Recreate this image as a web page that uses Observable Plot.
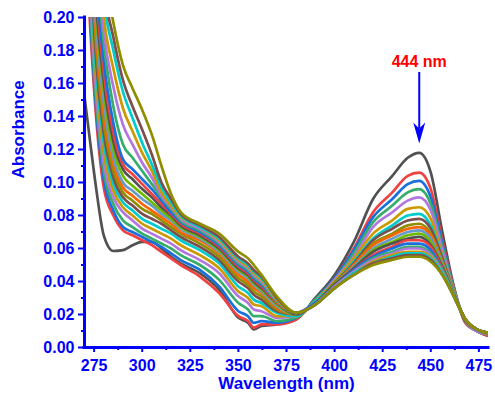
<!DOCTYPE html>
<html><head><meta charset="utf-8">
<script src="https://cdn.jsdelivr.net/npm/d3@7"></script>
<script src="https://cdn.jsdelivr.net/npm/@observablehq/plot@0.6"></script>
<style>body{margin:0;background:#fff} #chart{width:495px;height:402px}</style>
</head><body><div id="chart"></div>
<script>
const wavelength = [270, 273, 276, 280, 285, 290, 295, 300, 305, 310, 315, 320, 330, 340, 350, 355, 358, 362, 370, 380, 390, 400, 410, 420, 430, 438, 444, 450, 456, 462, 468, 474, 480];

const s00 = [0.152,0.124,0.097,0.068,0.0585,0.059,0.062,0.064,0.064,0.060,0.055,0.051,0.045,0.035,0.018,0.015,0.011,0.013,0.014,0.017, 0.030,0.044,0.064,0.090,0.104,0.115,0.118,0.106,0.070,0.037,0.015,0.010,0.007];
const s01 = [0.26,0.193,0.140,0.097,0.080,0.071,0.068,0.065,0.062,0.058,0.054,0.050,0.043,0.033,0.019,0.016,0.012,0.014,0.014,0.017, 0.029,0.042,0.060,0.082,0.094,0.104,0.106,0.096,0.065,0.036,0.015,0.010,0.007];
const s02 = [0.27,0.200,0.145,0.102,0.083,0.073,0.070,0.067,0.064,0.061,0.057,0.053,0.047,0.037,0.022,0.019,0.015,0.016,0.015,0.018, 0.029,0.042,0.059,0.079,0.090,0.099,0.101,0.091,0.063,0.035,0.016,0.010,0.008];
const s03 = [0.28,0.207,0.150,0.107,0.087,0.077,0.073,0.069,0.066,0.063,0.060,0.056,0.050,0.041,0.027,0.023,0.019,0.019,0.016,0.018, 0.029,0.041,0.057,0.076,0.086,0.094,0.096,0.087,0.061,0.035,0.016,0.010,0.008];
const s04 = [0.29,0.214,0.156,0.112,0.091,0.082,0.077,0.072,0.069,0.066,0.063,0.059,0.053,0.045,0.031,0.027,0.023,0.022,0.018,0.019, 0.028,0.041,0.055,0.073,0.082,0.089,0.091,0.083,0.059,0.034,0.016,0.010,0.008];
const s05 = [0.30,0.222,0.162,0.118,0.095,0.085,0.080,0.075,0.072,0.069,0.066,0.062,0.056,0.048,0.034,0.030,0.026,0.025,0.019,0.019, 0.028,0.040,0.054,0.069,0.077,0.084,0.085,0.078,0.056,0.034,0.016,0.011,0.008];
const s06 = [0.31,0.230,0.168,0.124,0.099,0.088,0.083,0.078,0.075,0.072,0.069,0.065,0.059,0.051,0.037,0.033,0.029,0.027,0.021,0.019, 0.028,0.039,0.052,0.066,0.074,0.080,0.081,0.074,0.055,0.033,0.016,0.011,0.008];
const s07 = [0.32,0.238,0.175,0.130,0.103,0.091,0.086,0.081,0.078,0.075,0.071,0.067,0.061,0.053,0.040,0.036,0.032,0.029,0.022,0.020, 0.027,0.039,0.051,0.065,0.072,0.077,0.078,0.072,0.054,0.033,0.016,0.011,0.008];
const s08 = [0.33,0.246,0.182,0.136,0.107,0.094,0.089,0.084,0.081,0.077,0.073,0.069,0.063,0.055,0.042,0.038,0.034,0.031,0.023,0.020, 0.027,0.039,0.050,0.063,0.069,0.074,0.075,0.069,0.052,0.033,0.017,0.011,0.008];
const s09 = [0.34,0.255,0.189,0.142,0.111,0.097,0.092,0.087,0.083,0.079,0.075,0.070,0.065,0.057,0.044,0.040,0.036,0.033,0.024,0.020, 0.027,0.038,0.050,0.062,0.068,0.072,0.073,0.068,0.052,0.033,0.017,0.011,0.009];
const s10 = [0.35,0.264,0.196,0.148,0.115,0.100,0.095,0.090,0.086,0.081,0.077,0.072,0.066,0.058,0.046,0.042,0.038,0.034,0.025,0.020, 0.027,0.038,0.049,0.060,0.066,0.070,0.071,0.066,0.051,0.033,0.017,0.011,0.009];
const s11 = [0.36,0.273,0.203,0.155,0.120,0.104,0.098,0.093,0.088,0.083,0.078,0.073,0.067,0.059,0.047,0.043,0.039,0.035,0.026,0.020, 0.027,0.038,0.048,0.059,0.064,0.068,0.069,0.064,0.050,0.032,0.017,0.011,0.009];
const s12 = [0.37,0.282,0.210,0.161,0.125,0.108,0.102,0.096,0.091,0.085,0.080,0.074,0.068,0.060,0.048,0.044,0.040,0.036,0.027,0.020, 0.027,0.038,0.048,0.058,0.063,0.066,0.067,0.062,0.049,0.032,0.017,0.011,0.009];
const s13 = [0.38,0.292,0.218,0.167,0.130,0.111,0.105,0.099,0.093,0.087,0.081,0.075,0.069,0.061,0.049,0.045,0.041,0.037,0.027,0.021, 0.027,0.037,0.047,0.056,0.061,0.065,0.065,0.061,0.048,0.032,0.017,0.011,0.009];
const s14 = [0.39,0.302,0.226,0.174,0.136,0.114,0.108,0.102,0.096,0.089,0.082,0.076,0.070,0.062,0.050,0.046,0.042,0.038,0.028,0.021, 0.027,0.037,0.047,0.055,0.060,0.063,0.063,0.059,0.047,0.032,0.017,0.011,0.009];
const s15 = [0.41,0.320,0.240,0.185,0.146,0.123,0.115,0.107,0.099,0.091,0.084,0.077,0.071,0.063,0.051,0.047,0.043,0.039,0.028,0.021, 0.026,0.037,0.046,0.054,0.058,0.061,0.061,0.057,0.047,0.032,0.017,0.011,0.009];
const s16 = [0.42,0.330,0.250,0.192,0.158,0.135,0.123,0.112,0.103,0.092,0.085,0.078,0.072,0.064,0.052,0.048,0.044,0.040,0.029,0.021, 0.026,0.037,0.046,0.053,0.057,0.060,0.060,0.056,0.046,0.031,0.017,0.011,0.009];
const s17 = [0.44,0.345,0.262,0.201,0.169,0.145,0.131,0.118,0.107,0.094,0.086,0.079,0.073,0.065,0.053,0.049,0.045,0.041,0.029,0.021, 0.026,0.036,0.045,0.052,0.056,0.058,0.058,0.055,0.045,0.031,0.017,0.011,0.009];
const s18 = [0.46,0.360,0.275,0.212,0.180,0.155,0.139,0.124,0.111,0.097,0.088,0.080,0.073,0.066,0.054,0.050,0.046,0.042,0.030,0.021, 0.026,0.036,0.045,0.051,0.055,0.057,0.057,0.054,0.045,0.031,0.017,0.011,0.009];
const s19 = [0.47,0.370,0.285,0.220,0.188,0.162,0.146,0.132,0.117,0.100,0.090,0.081,0.074,0.067,0.055,0.051,0.047,0.043,0.030,0.021, 0.026,0.036,0.044,0.051,0.054,0.056,0.056,0.053,0.044,0.031,0.017,0.011,0.009];
const s20 = [0.49,0.390,0.300,0.232,0.197,0.171,0.157,0.144,0.129,0.110,0.093,0.082,0.075,0.069,0.058,0.054,0.050,0.044,0.031,0.021, 0.026,0.036,0.044,0.050,0.053,0.055,0.055,0.052,0.044,0.031,0.017,0.011,0.009];

const spectra = [s00,s01,s02,s03,s04,s05,s06,s07,s08,s09,s10,s11,s12,s13,s14,s15,s16,s17,s18,s19,s20];
const palette = ["#515151","#F14040","#1A6FDF","#37AD6B","#B177DE","#CC9900","#00CBCC","#7D4E4E","#8E8E00","#FB6501","#6699CC","#6FB802"];

const xDomain = [270, 480];
const yDomain = [0, 0.2];
const xTicks = [275, 300, 325, 350, 375, 400, 425, 450, 475];
const xMinor = [287.5, 312.5, 337.5, 362.5, 387.5, 412.5, 437.5, 462.5];
const yTicks = [0, 0.02, 0.04, 0.06, 0.08, 0.10, 0.12, 0.14, 0.16, 0.18, 0.20];
const yMinor = [0.01, 0.03, 0.05, 0.07, 0.09, 0.11, 0.13, 0.15, 0.17, 0.19];
const peak = [{nm: 444, label: "444 nm", labelY: 0.1733, arrowTop: 0.1667, arrowNotch: 0.1327, arrowTip: 0.1236}];

const blue = "#0000FF";
const font = "'Liberation Sans', Arial, Helvetica, sans-serif";

const stealth = {
  draw(ctx) {
    ctx.moveTo(0, 0);
    ctx.lineTo(-6, -21);
    ctx.lineTo(0, -15);
    ctx.lineTo(6, -21);
    ctx.closePath();
  }
};

const marks = [];
spectra.forEach((s, i) => {
  const rows = wavelength.map((w, j) => ({w, a: s[j]}));
  marks.push(Plot.line(rows, {x: "w", y: "a", stroke: palette[i % palette.length], strokeWidth: 2.7, curve: "monotone-x", clip: true}));
});

marks.push(
  Plot.axisY(yMinor, {tickSize: 3, tickFormat: () => "", color: blue, strokeWidth: 2, label: null}),
  Plot.axisY(yTicks, {tickSize: 6, tickPadding: 4, tickFormat: d => d.toFixed(2), color: blue, strokeWidth: 2, fontSize: 16, fontWeight: "bold", label: null}),
  Plot.axisX(xMinor, {tickSize: 3, tickFormat: () => "", color: blue, strokeWidth: 2, label: null}),
  Plot.axisX(xTicks, {tickSize: 5, tickPadding: 7, color: blue, strokeWidth: 2, fontSize: 16, fontWeight: "bold", label: null}),
  Plot.ruleX([xDomain[0]], {stroke: blue, strokeWidth: 3, strokeLinecap: "square"}),
  Plot.ruleY([yDomain[0]], {stroke: blue, strokeWidth: 3, strokeLinecap: "square"}),
  Plot.text(["Absorbance"], {text: d => d, frameAnchor: "left", dx: -66, dy: -4, rotate: -90, fill: blue, fontSize: 17, fontWeight: "bold"}),
  Plot.text(["Wavelength (nm)"], {text: d => d, frameAnchor: "bottom", dy: 41, fill: blue, fontSize: 17, fontWeight: "bold"}),
  Plot.ruleX(peak, {x: "nm", y1: "arrowTop", y2: "arrowNotch", stroke: blue, strokeWidth: 2}),
  Plot.dot(peak, {x: "nm", y: "arrowTip", symbol: stealth, fill: blue, stroke: "none"}),
  Plot.text(peak, {x: "nm", y: "labelY", text: "label", fill: "#FF0000", fontSize: 16, fontWeight: "bold"})
);

const chart = Plot.plot({
  width: 495, height: 402,
  marginLeft: 84, marginRight: 7, marginTop: 17, marginBottom: 55,
  x: {domain: xDomain},
  y: {domain: yDomain},
  style: {fontFamily: font, background: "white", overflow: "visible"},
  marks
});
document.getElementById("chart").append(chart);
</script>
</body></html>
